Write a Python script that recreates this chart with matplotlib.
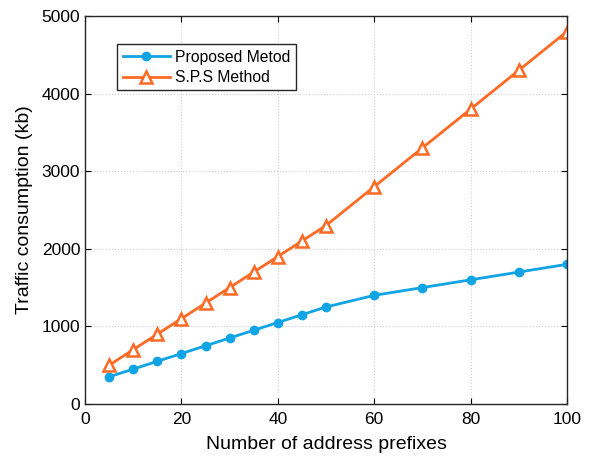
import matplotlib
matplotlib.use("Agg")
import matplotlib.pyplot as plt

x = [5, 10, 15, 20, 25, 30, 35, 40, 45, 50, 60, 70, 80, 90, 100]
proposed = [350, 450, 550, 650, 750, 850, 950, 1050, 1150, 1250, 1400, 1500, 1600, 1700, 1800]
sps = [500, 700, 900, 1100, 1300, 1500, 1700, 1900, 2100, 2300, 2800, 3300, 3800, 4300, 4800]
xticks = [0, 20, 40, 60, 80, 100]
yticks = [0, 1000, 2000, 3000, 4000, 5000]

plt.rcParams['font.family'] = ['Liberation Sans', 'DejaVu Sans']
fig = plt.figure(figsize=(5.97, 4.65), dpi=100)
ax = fig.add_axes([0.1424, 0.1312, 0.8073, 0.8344])

blue = '#10a4e4'
orange = '#ff6a24'
ax.plot(x, proposed, '-o', color=blue, lw=2, ms=6, label='Proposed Metod')
ax.plot(x, sps, '-^', color=orange, lw=2, ms=8.5, mfc='white', mec=orange, mew=1.8,
        label='S.P.S Method')

ax.set_xlim(0, 100)
ax.set_ylim(0, 5000)
ax.set_xticks(xticks)
ax.set_yticks(yticks)
ax.grid(True, color='#d0d0d0', linestyle=':', linewidth=0.8)
ax.tick_params(direction='in', top=True, right=True, labelsize=12.5, length=4)
ax.tick_params(axis='x', pad=6)
for s in ax.spines.values():
    s.set_linewidth(1.0)
    s.set_color('#262626')
ax.set_xlabel('Number of address prefixes', fontsize=14, labelpad=6)
ax.set_ylabel('Traffic consumption (kb)', fontsize=14, labelpad=6)

leg = ax.legend(loc='upper left', bbox_to_anchor=(0.051, 0.948), fontsize=11.3,
                fancybox=False, edgecolor='#262626', framealpha=1,
                handlelength=3, borderpad=0.35, labelspacing=0.35, handletextpad=0.3)
leg.get_frame().set_linewidth(1.0)

fig.savefig('out.png', dpi=100)
